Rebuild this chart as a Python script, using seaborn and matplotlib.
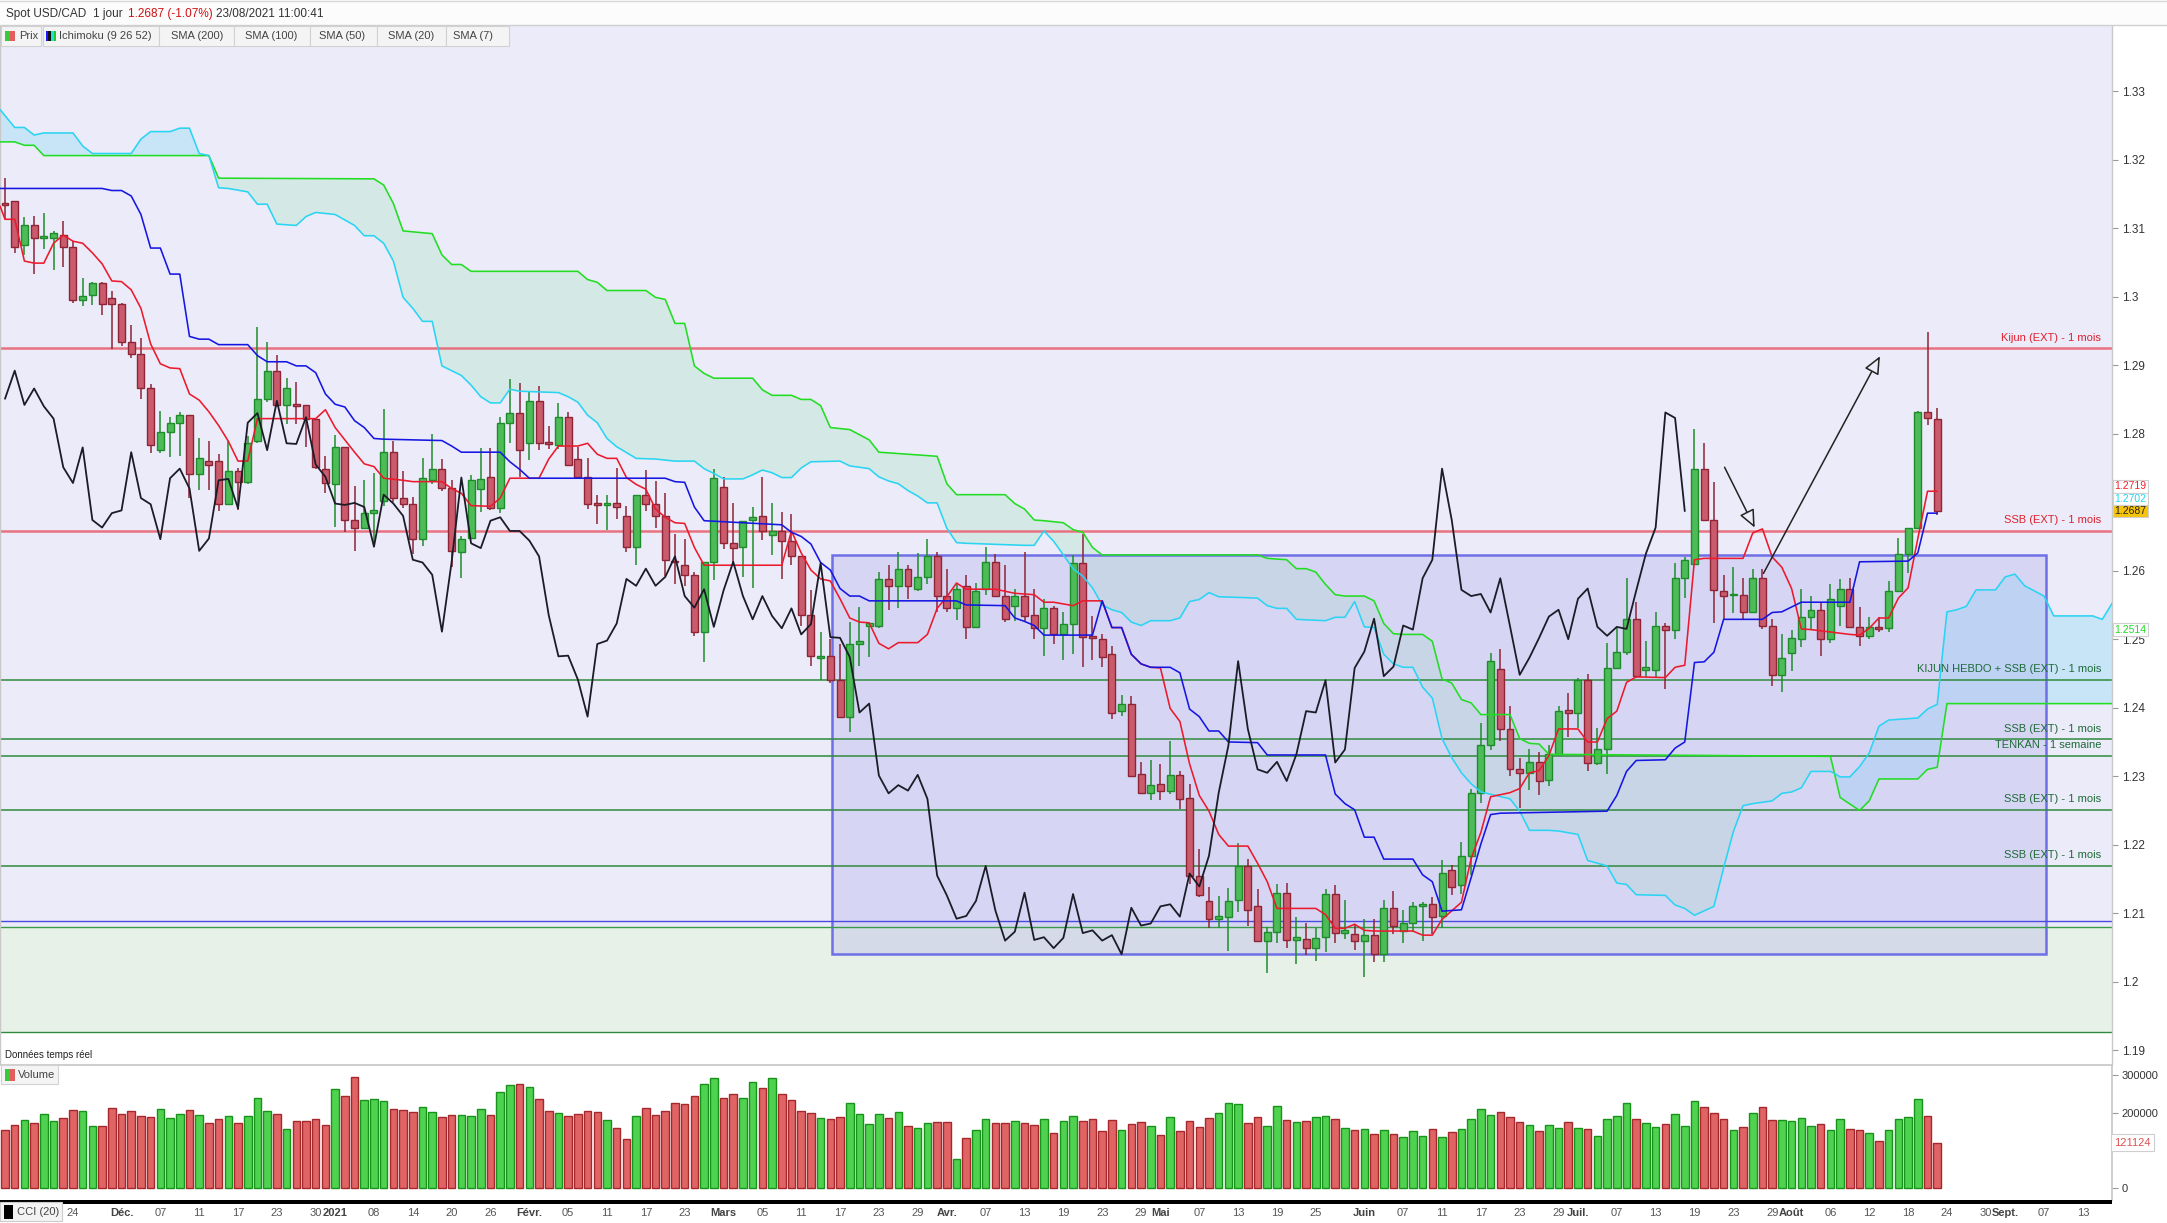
import numpy as np
import pandas as pd
import matplotlib
matplotlib.use("Agg")
import matplotlib.pyplot as plt
import seaborn as sns
from matplotlib.patches import Rectangle
from matplotlib.transforms import blended_transform_factory

# -------------------------------
# Daily candles USD/CAD, 13/11/2020 -> 23/08/2021
# -------------------------------
opens = [
    1.3137, 1.3139, 1.3075, 1.3104, 1.3086, 1.3086, 1.3090, 1.3073, 1.2995, 1.3002,
    1.3020, 1.2998, 1.2990, 1.2934, 1.2916, 1.2866, 1.2776, 1.2803, 1.2815, 1.2827,
    1.2741, 1.2760, 1.2760, 1.2698, 1.2746, 1.2730, 1.2790, 1.2851, 1.2891, 1.2842,
    1.2843, 1.2842, 1.2822, 1.2749, 1.2726, 1.2780, 1.2674, 1.2663, 1.2684, 1.2702,
    1.2773, 1.2706, 1.2697, 1.2646, 1.2733, 1.2748, 1.2720, 1.2627, 1.2648, 1.2719,
    1.2737, 1.2692, 1.2816, 1.2830, 1.2786, 1.2848, 1.2787, 1.2784, 1.2824, 1.2763,
    1.2737, 1.2698, 1.2696, 1.2699, 1.2680, 1.2635, 1.2711, 1.2698, 1.2680, 1.2614,
    1.2609, 1.2594, 1.2511, 1.2612, 1.2722, 1.2640, 1.2634, 1.2674, 1.2680, 1.2652,
    1.2658, 1.2644, 1.2621, 1.2535, 1.2472, 1.2476, 1.2441, 1.2387, 1.2493, 1.2519,
    1.2519, 1.2588, 1.2578, 1.2603, 1.2573, 1.2591, 1.2621, 1.2563, 1.2546, 1.2578,
    1.2518, 1.2573, 1.2613, 1.2563, 1.2549, 1.2563, 1.2535, 1.2517, 1.2545, 1.2507,
    1.2522, 1.2611, 1.2505, 1.2501, 1.2479, 1.2395, 1.2406, 1.2303, 1.2275, 1.2288,
    1.2279, 1.2302, 1.2268, 1.2155, 1.2118, 1.2092, 1.2095, 1.2120, 1.2169, 1.2111,
    1.2060, 1.2073, 1.2130, 1.2061, 1.2063, 1.2049, 1.2066, 1.2128, 1.2071, 1.2069,
    1.2060, 1.2068, 1.2040, 1.2108, 1.2074, 1.2085, 1.2110, 1.2113, 1.2096, 1.2163,
    1.2141, 1.2184, 1.2276, 1.2345, 1.2457, 1.2369, 1.2310, 1.2305, 1.2321, 1.2295,
    1.2332, 1.2397, 1.2393, 1.2440, 1.2320, 1.2339, 1.2458, 1.2482, 1.2530, 1.2455,
    1.2455, 1.2520, 1.2514, 1.2589, 1.2610, 1.2749, 1.2674, 1.2571, 1.2564, 1.2564,
    1.2539, 1.2589, 1.2519, 1.2448, 1.2480, 1.2500, 1.2533, 1.2543, 1.2500, 1.2549,
    1.2574, 1.2518, 1.2505, 1.2518, 1.2517, 1.2571, 1.2625, 1.2663, 1.2831, 1.2821,
]
highs = [
    1.3173, 1.3139, 1.3116, 1.3118, 1.3122, 1.3096, 1.3111, 1.3082, 1.3028, 1.3022,
    1.3022, 1.3009, 1.2991, 1.2959, 1.2940, 1.2873, 1.2833, 1.2825, 1.2832, 1.2827,
    1.2793, 1.2789, 1.2770, 1.2789, 1.2750, 1.2796, 1.2956, 1.2934, 1.2915, 1.2881,
    1.2875, 1.2842, 1.2822, 1.2768, 1.2798, 1.2780, 1.2723, 1.2733, 1.2743, 1.2836,
    1.2790, 1.2746, 1.2708, 1.2764, 1.2799, 1.2763, 1.2732, 1.2650, 1.2739, 1.2779,
    1.2779, 1.2824, 1.2880, 1.2874, 1.2862, 1.2869, 1.2811, 1.2845, 1.2832, 1.2781,
    1.2765, 1.2711, 1.2711, 1.2750, 1.2694, 1.2711, 1.2747, 1.2731, 1.2714, 1.2654,
    1.2647, 1.2598, 1.2613, 1.2749, 1.2737, 1.2699, 1.2673, 1.2693, 1.2737, 1.2699,
    1.2686, 1.2683, 1.2621, 1.2572, 1.2511, 1.2500, 1.2493, 1.2525, 1.2547, 1.2524,
    1.2598, 1.2608, 1.2628, 1.2608, 1.2626, 1.2647, 1.2628, 1.2602, 1.2581, 1.2593,
    1.2582, 1.2634, 1.2625, 1.2609, 1.2573, 1.2627, 1.2574, 1.2559, 1.2548, 1.2539,
    1.2623, 1.2654, 1.2534, 1.2508, 1.2490, 1.2419, 1.2417, 1.2321, 1.2323, 1.2318,
    1.2352, 1.2307, 1.2288, 1.2194, 1.2138, 1.2125, 1.2137, 1.2202, 1.2179, 1.2136,
    1.2080, 1.2142, 1.2144, 1.2094, 1.2085, 1.2078, 1.2135, 1.2141, 1.2119, 1.2084,
    1.2091, 1.2091, 1.2119, 1.2132, 1.2105, 1.2117, 1.2117, 1.2123, 1.2178, 1.2170,
    1.2204, 1.2282, 1.2377, 1.2480, 1.2485, 1.2403, 1.2327, 1.2339, 1.2336, 1.2346,
    1.2402, 1.2422, 1.2444, 1.2449, 1.2371, 1.2494, 1.2516, 1.2589, 1.2554, 1.2498,
    1.2539, 1.2524, 1.2611, 1.2620, 1.2807, 1.2786, 1.2729, 1.2593, 1.2606, 1.2589,
    1.2603, 1.2603, 1.2530, 1.2507, 1.2514, 1.2574, 1.2563, 1.2554, 1.2580, 1.2588,
    1.2590, 1.2547, 1.2532, 1.2532, 1.2585, 1.2648, 1.2663, 1.2833, 1.2949, 1.2838,
]
lows = [
    1.3114, 1.3064, 1.3061, 1.3033, 1.3070, 1.3039, 1.3044, 1.2991, 1.2986, 1.2988,
    1.2973, 1.2923, 1.2928, 1.2910, 1.2851, 1.2772, 1.2772, 1.2766, 1.2768, 1.2706,
    1.2718, 1.2718, 1.2687, 1.2698, 1.2689, 1.2727, 1.2786, 1.2846, 1.2839, 1.2814,
    1.2814, 1.2781, 1.2749, 1.2713, 1.2664, 1.2656, 1.2629, 1.2663, 1.2636, 1.2695,
    1.2701, 1.2692, 1.2624, 1.2636, 1.2726, 1.2716, 1.2606, 1.2590, 1.2648, 1.2686,
    1.2689, 1.2684, 1.2787, 1.2737, 1.2761, 1.2776, 1.2777, 1.2777, 1.2753, 1.2735,
    1.2690, 1.2668, 1.2659, 1.2676, 1.2628, 1.2609, 1.2687, 1.2663, 1.2592, 1.2581,
    1.2578, 1.2504, 1.2467, 1.2586, 1.2631, 1.2608, 1.2591, 1.2575, 1.2645, 1.2623,
    1.2588, 1.2608, 1.2520, 1.2461, 1.2440, 1.2436, 1.2387, 1.2364, 1.2461, 1.2474,
    1.2517, 1.2542, 1.2545, 1.2559, 1.2570, 1.2581, 1.2539, 1.2539, 1.2528, 1.2500,
    1.2517, 1.2564, 1.2563, 1.2525, 1.2527, 1.2525, 1.2500, 1.2476, 1.2493, 1.2470,
    1.2478, 1.2459, 1.2470, 1.2459, 1.2383, 1.2388, 1.2299, 1.2275, 1.2265, 1.2265,
    1.2274, 1.2252, 1.2142, 1.2123, 1.2078, 1.2078, 1.2045, 1.2102, 1.2081, 1.2060,
    1.2013, 1.2056, 1.2049, 1.2026, 1.2039, 1.2030, 1.2043, 1.2056, 1.2063, 1.2046,
    1.2007, 1.2029, 1.2029, 1.2070, 1.2056, 1.2073, 1.2060, 1.2070, 1.2078, 1.2127,
    1.2128, 1.2156, 1.2261, 1.2338, 1.2352, 1.2301, 1.2253, 1.2280, 1.2272, 1.2286,
    1.2332, 1.2357, 1.2371, 1.2307, 1.2317, 1.2303, 1.2457, 1.2477, 1.2443, 1.2445,
    1.2443, 1.2427, 1.2500, 1.2560, 1.2609, 1.2672, 1.2524, 1.2529, 1.2538, 1.2528,
    1.2538, 1.2515, 1.2432, 1.2423, 1.2453, 1.2489, 1.2515, 1.2475, 1.2494, 1.2520,
    1.2516, 1.2490, 1.2500, 1.2510, 1.2510, 1.2571, 1.2596, 1.2663, 1.2813, 1.2682,
]
closes = [
    1.3134, 1.3073, 1.3104, 1.3086, 1.3089, 1.3093, 1.3073, 1.2995, 1.3001, 1.3020,
    1.2990, 1.2990, 1.2934, 1.2916, 1.2866, 1.2783, 1.2803, 1.2815, 1.2827, 1.2741,
    1.2765, 1.2754, 1.2698, 1.2746, 1.2730, 1.2786, 1.2851, 1.2892, 1.2842, 1.2866,
    1.2840, 1.2822, 1.2751, 1.2728, 1.2780, 1.2674, 1.2663, 1.2684, 1.2688, 1.2773,
    1.2706, 1.2697, 1.2646, 1.2735, 1.2749, 1.2720, 1.2629, 1.2647, 1.2732, 1.2734,
    1.2691, 1.2816, 1.2830, 1.2776, 1.2848, 1.2786, 1.2785, 1.2824, 1.2755, 1.2737,
    1.2698, 1.2696, 1.2699, 1.2693, 1.2635, 1.2711, 1.2698, 1.2680, 1.2616, 1.2612,
    1.2594, 1.2511, 1.2613, 1.2736, 1.2640, 1.2633, 1.2673, 1.2678, 1.2658, 1.2658,
    1.2644, 1.2621, 1.2535, 1.2475, 1.2476, 1.2441, 1.2387, 1.2493, 1.2498, 1.2523,
    1.2588, 1.2578, 1.2603, 1.2578, 1.2591, 1.2621, 1.2563, 1.2546, 1.2573, 1.2518,
    1.2571, 1.2613, 1.2563, 1.2529, 1.2563, 1.2534, 1.2516, 1.2545, 1.2507, 1.2522,
    1.2611, 1.2503, 1.2502, 1.2474, 1.2393, 1.2406, 1.2301, 1.2275, 1.2287, 1.2279,
    1.2302, 1.2267, 1.2155, 1.2126, 1.2092, 1.2096, 1.2118, 1.2169, 1.2104, 1.2060,
    1.2073, 1.2130, 1.2061, 1.2065, 1.2049, 1.2064, 1.2128, 1.2071, 1.2075, 1.2060,
    1.2068, 1.2040, 1.2108, 1.2082, 1.2085, 1.2110, 1.2113, 1.2095, 1.2158, 1.2139,
    1.2184, 1.2276, 1.2345, 1.2468, 1.2369, 1.2310, 1.2305, 1.2321, 1.2293, 1.2332,
    1.2395, 1.2393, 1.2440, 1.2320, 1.2339, 1.2458, 1.2482, 1.2530, 1.2446, 1.2460,
    1.2520, 1.2514, 1.2589, 1.2616, 1.2749, 1.2674, 1.2572, 1.2563, 1.2566, 1.2539,
    1.2589, 1.2519, 1.2448, 1.2473, 1.2502, 1.2533, 1.2543, 1.2500, 1.2559, 1.2574,
    1.2518, 1.2505, 1.2518, 1.2515, 1.2571, 1.2625, 1.2663, 1.2831, 1.2823, 1.2687,
]
# volumes in thousands
volumes_k = [
    154, 167, 181, 174, 197, 178, 186, 207, 204, 165,
    165, 212, 197, 204, 191, 189, 210, 186, 197, 207,
    194, 173, 183, 191, 173, 191, 239, 204, 197, 157,
    178, 178, 183, 167, 263, 244, 294, 234, 236, 231,
    210, 207, 202, 215, 202, 189, 194, 194, 191, 210,
    194, 255, 273, 276, 268, 236, 204, 199, 191, 197,
    204, 202, 181, 160, 130, 191, 212, 194, 204, 226,
    223, 244, 278, 292, 239, 249, 239, 281, 265, 292,
    249, 234, 204, 199, 186, 183, 189, 226, 197, 170,
    197, 186, 202, 165, 160, 173, 175, 175, 78, 133,
    154, 183, 173, 173, 178, 173, 167, 183, 146, 178,
    191, 178, 183, 152, 181, 154, 170, 175, 165, 141,
    189, 152, 178, 162, 186, 199, 226, 223, 173, 189,
    165, 218, 181, 175, 178, 189, 191, 183, 160, 154,
    157, 144, 154, 144, 136, 152, 138, 157, 136, 149,
    157, 183, 210, 194, 202, 189, 175, 167, 152, 167,
    160, 175, 160, 157, 138, 183, 191, 226, 183, 173,
    162, 170, 197, 165, 231, 215, 199, 183, 154, 162,
    199, 215, 181, 181, 178, 186, 165, 170, 154, 183,
    157, 154, 146, 125, 154, 183, 189, 236, 191, 121.124,
]

# Ichimoku lines, (day index, price) vertices
tenkan = [(-0.5, 1.3132), (0, 1.3113), (1, 1.3113), (2, 1.3052), (3, 1.3049), (4, 1.3049),
          (5, 1.3078), (6, 1.3090), (7, 1.3081), (8, 1.3078), (9, 1.3064), (10, 1.3048),
          (11, 1.3023), (12, 1.3022), (13, 1.3010), (14, 1.2983), (15, 1.2931), (16, 1.2902),
          (17, 1.2896), (18, 1.2895), (19, 1.2858), (20, 1.2849), (21, 1.2832), (22, 1.2812),
          (23, 1.2789), (24, 1.2760), (25, 1.2760), (26, 1.2822), (32, 1.2822), (33, 1.2835),
          (34, 1.2809), (35, 1.2791), (36, 1.2773), (37, 1.2756), (38, 1.2752), (39, 1.2735),
          (41, 1.2732), (42, 1.2730), (45, 1.2730), (46, 1.2720), (47, 1.2713), (48, 1.2695),
          (50, 1.2694), (51, 1.2706), (52, 1.2735), (55, 1.2735), (56, 1.2763), (57, 1.2782),
          (59, 1.2782), (60, 1.2786), (61, 1.2770), (62, 1.2764), (63, 1.2764), (64, 1.2736),
          (65, 1.2726), (66, 1.2719), (67, 1.2690), (68, 1.2678), (69, 1.2670), (70, 1.2669),
          (71, 1.2634), (72, 1.2608), (80, 1.2608), (81, 1.2658), (82, 1.2626), (83, 1.2601),
          (84, 1.2588), (85, 1.2585), (86, 1.2559), (87, 1.2531), (88, 1.2525), (89, 1.2524),
          (90, 1.2494), (91, 1.2486), (92, 1.2495), (94, 1.2495), (95, 1.2507), (96, 1.2545),
          (97, 1.2562), (98, 1.2582), (99, 1.2573), (102, 1.2573), (103, 1.2570), (104, 1.2567),
          (106, 1.2565), (107, 1.2554), (108, 1.2554), (110, 1.2549), (111, 1.2556), (113, 1.2556),
          (114, 1.2517), (115, 1.2517), (116, 1.2478), (117, 1.2464), (118, 1.2459), (119, 1.2458),
          (120, 1.2399), (121, 1.2380), (122, 1.2318), (123, 1.2272), (124, 1.2249), (125, 1.2215),
          (126, 1.2198), (128, 1.2198), (129, 1.2173), (130, 1.2146), (131, 1.2107), (135, 1.2107),
          (136, 1.2098), (137, 1.2078), (138, 1.2078), (139, 1.2084), (140, 1.2075), (141, 1.2074),
          (145, 1.2074), (146, 1.2068), (147, 1.2068), (148, 1.2091), (150, 1.2116), (151, 1.2180),
          (152, 1.2218), (153, 1.2270), (155, 1.2276), (156, 1.2282), (157, 1.2305), (158, 1.2308),
          (159, 1.2330), (160, 1.2369), (162, 1.2369), (163, 1.2350), (164, 1.2350), (165, 1.2384),
          (166, 1.2395), (167, 1.2437), (168, 1.2445), (171, 1.2444), (172, 1.2459), (173, 1.2462),
          (174, 1.2616), (175, 1.2618), (179, 1.2618), (180, 1.2655), (181, 1.2661), (182, 1.2620),
          (183, 1.2605), (184, 1.2574), (185, 1.2515), (186, 1.2514), (190, 1.2507), (191, 1.2506),
          (192, 1.2516), (193, 1.2531), (194, 1.2531), (195, 1.2560), (196, 1.2575), (197, 1.2647),
          (198, 1.2716), (199, 1.2716)]
kijun = [(-0.5, 1.3158), (10, 1.3158), (11, 1.3155), (12, 1.3155), (13, 1.3147), (14, 1.3120),
         (15, 1.3071), (16, 1.3071), (17, 1.3033), (18, 1.3033), (19, 1.2942), (20, 1.2938),
         (21, 1.2938), (22, 1.2930), (25, 1.2930), (26, 1.2914), (27, 1.2905), (29, 1.2905),
         (30, 1.2899), (31, 1.2899), (32, 1.2889), (33, 1.2858), (34, 1.2843), (35, 1.2839),
         (36, 1.2819), (37, 1.2809), (38, 1.2793), (39, 1.2792), (45, 1.2790), (46, 1.2782),
         (47, 1.2773), (51, 1.2773), (52, 1.2759), (53, 1.2748), (54, 1.2735), (68, 1.2735),
         (69, 1.2730), (70, 1.2729), (71, 1.2693), (72, 1.2673), (80, 1.2667), (81, 1.2656),
         (82, 1.2650), (83, 1.2639), (84, 1.2612), (85, 1.2601), (86, 1.2574), (87, 1.2563),
         (88, 1.2563), (89, 1.2556), (98, 1.2556), (99, 1.2550), (103, 1.2549), (104, 1.2531),
         (105, 1.2526), (106, 1.2520), (107, 1.2506), (112, 1.2506), (113, 1.2556), (114, 1.2517),
         (115, 1.2517), (116, 1.2478), (117, 1.2464), (118, 1.2459), (120, 1.2459), (121, 1.2451),
         (122, 1.2398), (123, 1.2387), (124, 1.2366), (125, 1.2366), (126, 1.2350), (129, 1.2349),
         (130, 1.2331), (136, 1.2331), (137, 1.2274), (138, 1.2260), (139, 1.2251), (140, 1.2211),
         (141, 1.2211), (142, 1.2179), (145, 1.2179), (146, 1.2156), (147, 1.2146), (148, 1.2103),
         (150, 1.2105), (151, 1.2152), (152, 1.2201), (153, 1.2244), (154, 1.2246), (165, 1.2249),
         (166, 1.2272), (167, 1.2307), (168, 1.2323), (171, 1.2324), (172, 1.2341), (173, 1.2350),
         (174, 1.2466), (175, 1.2467), (176, 1.2481), (177, 1.2529), (181, 1.2529), (182, 1.2539),
         (183, 1.2540), (185, 1.2554), (190, 1.2554), (191, 1.2613), (196, 1.2614), (197, 1.2626),
         (198, 1.2684), (199, 1.2684)]
span_green = [(-0.5, 1.3226), (1, 1.3226), (2, 1.3221), (3, 1.3221), (4, 1.3206), (21, 1.3206),
              (22, 1.3173), (38, 1.3172), (39, 1.3163), (40, 1.3136), (41, 1.3096), (44, 1.3092),
              (45, 1.3061), (46, 1.3047), (47, 1.3047), (48, 1.3037), (59, 1.3037), (60, 1.3025),
              (61, 1.3021), (62, 1.3009), (66, 1.3009), (67, 1.2999), (68, 1.2996), (69, 1.2961),
              (70, 1.2961), (71, 1.2899), (72, 1.2888), (73, 1.2881), (77, 1.2881), (78, 1.2864),
              (79, 1.2856), (81, 1.2856), (82, 1.2850), (83, 1.2850), (84, 1.2841), (85, 1.2809),
              (87, 1.2806), (89, 1.2791), (90, 1.2773), (96, 1.2767), (97, 1.2727), (98, 1.2711),
              (103, 1.2711), (104, 1.2698), (105, 1.2690), (106, 1.2674), (107, 1.2673), (109, 1.2670),
              (110, 1.2660), (111, 1.2656), (112, 1.2634), (113, 1.2623), (129, 1.2623), (130, 1.2618),
              (132, 1.2616), (133, 1.2603), (134, 1.2603), (135, 1.2598), (136, 1.2580), (137, 1.2565),
              (138, 1.2563), (140, 1.2563), (141, 1.2556), (142, 1.2523), (143, 1.2508), (144, 1.2507),
              (146, 1.2507), (147, 1.2497), (148, 1.2442), (149, 1.2436), (150, 1.2412), (151, 1.2407),
              (152, 1.2390), (155, 1.2390), (156, 1.2355), (157, 1.2348), (158, 1.2347), (159, 1.2332),
              (188, 1.2329), (188.42, 1.2304), (189, 1.2269), (191, 1.2250), (192, 1.2264), (193, 1.2296),
              (197, 1.2296), (198, 1.2310), (199, 1.2313), (200, 1.2406), (218, 1.2406)]
span_cyan = [(-0.5, 1.3273), (1, 1.3247), (2, 1.3247), (3, 1.3236), (4, 1.3239), (7, 1.3239),
             (8, 1.3220), (9, 1.3209), (13, 1.3209), (14, 1.3230), (15, 1.3241), (17, 1.3241),
             (18, 1.3246), (19, 1.3246), (20, 1.3209), (21, 1.3206), (22, 1.3159), (23, 1.3158),
             (25, 1.3153), (26, 1.3135), (27, 1.3135), (28, 1.3106), (30, 1.3104), (31, 1.3117),
             (32, 1.3123), (34, 1.3120), (36, 1.3104), (37, 1.3089), (38, 1.3089), (39, 1.3078),
             (40, 1.3052), (41, 1.2999), (42, 1.2983), (43, 1.2964), (44, 1.2964), (45, 1.2899),
             (46, 1.2892), (47, 1.2885), (48, 1.2871), (49, 1.2854), (50, 1.2845), (51, 1.2845),
             (52, 1.2865), (53, 1.2862), (57, 1.2860), (58, 1.2854), (59, 1.2846), (60, 1.2827),
             (61, 1.2816), (62, 1.2793), (63, 1.2781), (65, 1.2764), (67, 1.2763), (69, 1.2760),
             (71, 1.2760), (72, 1.2749), (73, 1.2742), (74, 1.2734), (76, 1.2734), (77, 1.2740),
             (78, 1.2747), (79, 1.2743), (80, 1.2736), (81, 1.2736), (82, 1.2750), (83, 1.2759),
             (86, 1.2760), (87, 1.2753), (89, 1.2749), (90, 1.2737), (91, 1.2731), (92, 1.2727),
             (93, 1.2717), (94, 1.2709), (95, 1.2699), (96, 1.2699), (97, 1.2662), (98, 1.2641),
             (99, 1.2640), (105, 1.2637), (106, 1.2637), (107, 1.2658), (108, 1.2643), (110, 1.2603),
             (111, 1.2592), (112, 1.2575), (113, 1.2550), (114, 1.2543), (115, 1.2539), (116, 1.2525),
             (117, 1.2520), (118, 1.2527), (120, 1.2527), (121, 1.2531), (122, 1.2555), (123, 1.2558),
             (124, 1.2568), (125, 1.2562), (129, 1.2560), (130, 1.2549), (131, 1.2545), (132, 1.2545),
             (133, 1.2529), (136, 1.2527), (137, 1.2532), (138, 1.2532), (139, 1.2555), (140, 1.2518),
             (141, 1.2517), (142, 1.2478), (143, 1.2464), (144, 1.2459), (145, 1.2459), (146, 1.2430),
             (147, 1.2414), (148, 1.2355), (149, 1.2327), (150, 1.2305), (151, 1.2289), (152, 1.2277),
             (155, 1.2267), (156, 1.2249), (157, 1.2221), (159, 1.2221), (160, 1.2220), (162, 1.2215),
             (163, 1.2177), (165, 1.2169), (166, 1.2144), (167, 1.2142), (168, 1.2127), (171, 1.2126),
             (172, 1.2112), (173, 1.2107), (174, 1.2097), (176, 1.2110), (177, 1.2166), (178, 1.2219),
             (179, 1.2257), (180, 1.2260), (182, 1.2264), (183, 1.2275), (184, 1.2277), (185, 1.2283),
             (186, 1.2307), (188, 1.2307), (188.42, 1.2304), (189, 1.2299), (190, 1.2299), (191, 1.2314),
             (192, 1.2334), (193, 1.2373), (194, 1.2382), (197, 1.2385), (198, 1.2398), (199, 1.2405),
             (200, 1.2540), (201, 1.2543), (202, 1.2548), (203, 1.2572), (205, 1.2572), (206, 1.2591),
             (207, 1.2595), (208, 1.2578), (210, 1.2563), (211, 1.2534), (215, 1.2534), (216, 1.2529),
             (217, 1.2552), (218, 1.2575)]
cloud_cross = [-0.5, 21, 188.42, 218]   # where the two spans swap sides

# user drawn levels
red_levels = [(1.2925, "Kijun (EXT) - 1 mois"), (1.2658, "SSB (EXT) - 1 mois")]
green_levels = [(1.2441, "KIJUN HEBDO + SSB (EXT) - 1 mois"), (1.2354, "SSB (EXT) - 1 mois"),
                (1.2330, "TENKAN - 1 semaine"), (1.2251, "SSB (EXT) - 1 mois"),
                (1.2169, "SSB (EXT) - 1 mois")]
blue_level = 1.2089
green_zone = (1.1926, 1.2080)
box_days = (85.2, 210.2)
box_prices = (1.2040, 1.2623)
arrows = [((177.1, 1.2751), (180.2, 1.2663)), ((181.1, 1.2596), (193.1, 1.2913))]

# right axis value tags (stacked just above the last price)
tags = [(1.2723, "1.2719", "#f0202a", "white"), (1.2705, "1.2702", "#20d8f0", "white"),
        (1.2687, "1.2687", "#222222", "#f6c40c"), (1.2514, "1.2514", "#20dd20", "white")]
hidden_ticks = {1.27}   # covered by the value tags on the original

date_labels = [
    ("2020-11-24", "24"), ("2020-12-01", "Déc."), ("2020-12-07", "07"), ("2020-12-11", "11"),
    ("2020-12-17", "17"), ("2020-12-23", "23"), ("2020-12-30", "30"), ("2021-01-04", "2021"),
    ("2021-01-08", "08"), ("2021-01-14", "14"), ("2021-01-20", "20"), ("2021-01-26", "26"),
    ("2021-02-01", "Févr."), ("2021-02-05", "05"), ("2021-02-11", "11"), ("2021-02-17", "17"),
    ("2021-02-23", "23"), ("2021-03-01", "Mars"), ("2021-03-05", "05"), ("2021-03-11", "11"),
    ("2021-03-17", "17"), ("2021-03-23", "23"), ("2021-03-29", "29"), ("2021-04-01", "Avr."),
    ("2021-04-07", "07"), ("2021-04-13", "13"), ("2021-04-19", "19"), ("2021-04-23", "23"),
    ("2021-04-29", "29"), ("2021-05-03", "Mai"), ("2021-05-07", "07"), ("2021-05-13", "13"),
    ("2021-05-19", "19"), ("2021-05-25", "25"), ("2021-06-01", "Juin"), ("2021-06-07", "07"),
    ("2021-06-11", "11"), ("2021-06-17", "17"), ("2021-06-23", "23"), ("2021-06-29", "29"),
    ("2021-07-01", "Juil."), ("2021-07-07", "07"), ("2021-07-13", "13"), ("2021-07-19", "19"),
    ("2021-07-23", "23"), ("2021-07-29", "29"), ("2021-08-02", "Août"), ("2021-08-06", "06"),
    ("2021-08-12", "12"), ("2021-08-18", "18"), ("2021-08-24", "24"), ("2021-08-30", "30"),
    ("2021-09-01", "Sept."), ("2021-09-07", "07"), ("2021-09-13", "13"),
]
bold_labels = {"Déc.", "2021", "Févr.", "Mars", "Avr.", "Mai", "Juin", "Juil.", "Août", "Sept."}

# -------------------------------
# Style
# -------------------------------
sns.set_theme(style="white")
plt.rcParams['font.family'] = ['Liberation Sans', 'DejaVu Sans']

G_FC, G_EC = "#4dbb57", "#1f8c2c"
R_FC, R_EC = "#c95b6c", "#8e2436"
BG = "#ebebf9"

W, H = 2167, 1223
fig = plt.figure(figsize=(W / 100, H / 100), dpi=100)
fig.patch.set_facecolor("white")


def fx(px):
    return px / W


def fy(py):
    return 1 - py / H


XLIM = (-0.515, 217.0)
ax = fig.add_axes([0, fy(1064), fx(2112), (1064 - 25) / H])
axv = fig.add_axes([0, fy(1200), fx(2112), (1200 - 1065) / H])
axd = fig.add_axes([0, 0, fx(2112), 23 / H])

# calendar for the x axis (trading days, no 25/12 and 01/01)
days = pd.bdate_range("2020-11-13", "2021-09-30")
days = days[~days.isin(pd.to_datetime(["2020-12-25", "2021-01-01"]))]
day_pos = {d: i for i, d in enumerate(days)}

o, hi, lo, c = map(np.array, (opens, highs, lows, closes))
vol = np.array(volumes_k) * 1000
idx = np.arange(len(c))
up = c >= o

# -------------------------------
# Price panel
# -------------------------------
ax.set_facecolor("white")
ax.set_xlim(*XLIM)
ax.set_ylim(1.18799, 1.33966)
ax.axhspan(green_zone[0], 1.36, color=BG, lw=0, zorder=0.1)
ax.axhspan(green_zone[0], green_zone[1], color="#e7f1e7", lw=0, zorder=0.2)


def cloud(a, b, color):
    g = [p for p in span_green if a <= p[0] <= b]
    s = [p for p in span_cyan if a <= p[0] <= b][::-1]
    pts = g + s
    ax.fill([p[0] for p in pts], [p[1] for p in pts], color=color, lw=0, zorder=1)


cloud_colors = ["#c7e5f7", "#d4e9e6", "#c7e5f7"]
for k in range(3):
    cloud(cloud_cross[k], cloud_cross[k + 1], cloud_colors[k])

ax.add_patch(Rectangle((box_days[0], box_prices[0]), box_days[1] - box_days[0],
                       box_prices[1] - box_prices[0], fc=(172 / 255, 172 / 255, 236 / 255, 0.32),
                       ec="#6f6fe6", lw=1.8, zorder=1.6))

for lvl, txt in red_levels:
    ax.axhline(lvl, color="#e8727f", lw=1.8, zorder=2)
    ax.annotate(txt, xy=(215.9, lvl), xytext=(0, 4), textcoords="offset points",
                ha="right", va="bottom", fontsize=8, color="#e0202e", zorder=6)
for lvl, txt in green_levels:
    ax.axhline(lvl, color="#2f8a3e", lw=1.1, zorder=2)
    ax.annotate(txt, xy=(215.9, lvl), xytext=(0, 4), textcoords="offset points",
                ha="right", va="bottom", fontsize=8, color="#1f6a38", zorder=6)
ax.axhline(blue_level, color="#4a4ae0", lw=1.0, zorder=2)
ax.axhline(green_zone[1], color="#3a9a4a", lw=1.0, zorder=2)
ax.axhline(green_zone[0], color="#2f8a3e", lw=1.0, zorder=2)

# candles
for mask, fc, ec in [(up, G_FC, G_EC), (~up, R_FC, R_EC)]:
    ax.vlines(idx[mask], lo[mask], hi[mask], color=ec, lw=1.1, zorder=4)
    body = np.maximum(np.abs(c[mask] - o[mask]), 0.00025)
    ax.bar(idx[mask], body, 0.72, bottom=np.minimum(o[mask], c[mask]),
           color=fc, edgecolor=ec, lw=1.0, zorder=4.1)

# ichimoku lines
for knots, col in [(span_green, "#22dd22"), (span_cyan, "#2ad4f2"),
                   (tenkan, "#ec1a2c"), (kijun, "#1616e2")]:
    sns.lineplot(x=[p[0] for p in knots], y=[p[1] for p in knots], ax=ax, color=col,
                 lw=1.15, sort=False, estimator=None, legend=False, zorder=5)
# chikou = close plotted 26 days back
sns.lineplot(x=idx[26:] - 26, y=c[26:], ax=ax, color="#1c1c28", lw=1.3,
             sort=False, estimator=None, legend=False, zorder=5.5)

for tail, tip in arrows:
    ax.annotate("", xy=tip, xytext=tail,
                arrowprops=dict(arrowstyle="-|>,head_length=0.9,head_width=0.4",
                                ec="#222222", fc=BG, lw=1.1, shrinkA=0, shrinkB=0,
                                mutation_scale=12), zorder=6)

ax.set_xlabel("")
ax.set_ylabel("")
ax.set_xticks([])
ax.yaxis.tick_right()
yt = np.round(np.arange(1.19, 1.3301, 0.01), 2)
ax.set_yticks(yt)
ax.set_yticklabels(["" if v in hidden_ticks else f"{v:g}" for v in yt])
ax.tick_params(axis="y", right=True, length=4, width=0.8, color="#999999", pad=3,
               labelsize=8.5, labelcolor="#333333")
for s in ax.spines.values():
    s.set_visible(False)
for s in ("right", "left"):
    ax.spines[s].set_visible(True)
    ax.spines[s].set_color("#c8c8c8")
    ax.spines[s].set_linewidth(1)

tr = blended_transform_factory(ax.transAxes, ax.transData)
for z, (y, txt, tc, fc) in enumerate(tags):
    ax.text(1.0012, y, txt, transform=tr, ha="left", va="center", fontsize=7.5, color=tc,
            bbox=dict(boxstyle="square,pad=0.12", fc=fc, ec="#cfcfcf", lw=0.8),
            clip_on=False, zorder=7 + z)

# -------------------------------
# Volume panel
# -------------------------------
axv.set_facecolor("white")
axv.set_xlim(*XLIM)
axv.set_ylim(-30450, 327000)
axv.bar(idx[up], vol[up], 0.78, color="#4fd24f", edgecolor="#17931b", lw=1.0)
axv.bar(idx[~up], vol[~up], 0.78, color="#e06464", edgecolor="#a4282c", lw=1.0)
axv.set_xticks([])
axv.yaxis.tick_right()
axv.set_yticks([0, 200000, 300000])
axv.set_yticklabels(["0", "200000", "300000"])
axv.tick_params(axis="y", right=True, length=4, width=0.8, color="#999999", pad=3,
                labelsize=8, labelcolor="#333333")
for s in axv.spines.values():
    s.set_visible(False)
for s in ("right", "top"):
    axv.spines[s].set_visible(True)
    axv.spines[s].set_color("#c8c8c8")
trv = blended_transform_factory(axv.transAxes, axv.transData)
axv.text(1.0012, vol[-1], f"{int(round(vol[-1]))}", transform=trv, ha="left", va="center",
         fontsize=8, color="#e05050", bbox=dict(boxstyle="square,pad=0.3", fc="white",
                                                 ec="#cfcfcf", lw=0.8), clip_on=False, zorder=7)

# -------------------------------
# Date strip
# -------------------------------
axd.set_xlim(*XLIM)
axd.set_ylim(23, 0)
axd.axis("off")
axd.axhspan(0, 4, color="black", lw=0)
for d, t in date_labels:
    bold = t in bold_labels
    axd.text(day_pos[pd.Timestamp(d)], 13.5, t, ha="center", va="center", fontsize=8,
             color="#444444" if bold else "#555555", fontweight="bold" if bold else "normal")

# -------------------------------
# Header, legend boxes
# -------------------------------
fig.add_artist(Rectangle((0, fy(25)), 1, 25 / H, transform=fig.transFigure,
                         fc="#fcfcfc", ec="none", zorder=1))
fig.add_artist(plt.Line2D([0, 1], [fy(25), fy(25)], transform=fig.transFigure,
                          color="#cfcfcf", lw=1, zorder=2))
fig.add_artist(plt.Line2D([0, 1], [fy(0.5), fy(0.5)], transform=fig.transFigure,
                          color="#d8d8d8", lw=1, zorder=2))
hy = fy(14)
fig.text(fx(6), hy, "Spot USD/CAD", fontsize=8.5, color="#333333", va="center")
fig.text(fx(93), hy, "1 jour", fontsize=8.5, color="#333333", va="center")
fig.text(fx(128), hy, "1.2687 (-1.07%)", fontsize=8.5, color="#d01010", va="center")
fig.text(fx(216), hy, "23/08/2021 11:00:41", fontsize=8.5, color="#333333", va="center")

legend_boxes = [(1, 41, "Prix", 19), (43, 159, "Ichimoku (9 26 52)", 59),
                (159, 234, "SMA (200)", 171), (234, 310, "SMA (100)", 245),
                (310, 377, "SMA (50)", 319), (377, 446, "SMA (20)", 388),
                (446, 509, "SMA (7)", 453)]
for x0, x1, txt, tx in legend_boxes:
    fig.add_artist(Rectangle((fx(x0), fy(46)), fx(x1 - x0), 20 / H, transform=fig.transFigure,
                             fc="#f4f4f4", ec="#d2d2d2", lw=0.8, zorder=1))
    fig.text(fx(tx), fy(36), txt, fontsize=8, color="#444444", va="center", zorder=3)


def small_rect(x0, y0, w, h, col):
    fig.add_artist(Rectangle((fx(x0), fy(y0 + h)), fx(w), h / H, transform=fig.transFigure,
                             fc=col, ec="none", zorder=2))


small_rect(5, 31, 5, 10, "#3cc83c")
small_rect(10, 31, 5, 10, "#e06060")
for k, col in enumerate(["#1a1aff", "#111111", "#22dddd", "#22cc22"]):
    small_rect(46 + 2.5 * k, 31, 2.5, 10, col)

# volume legend
fig.add_artist(Rectangle((fx(1), fy(1084)), fx(57), 19 / H, transform=fig.transFigure,
                         fc="#f4f4f4", ec="#d2d2d2", lw=0.8, zorder=1))
small_rect(5, 1069, 5, 12, "#3cc83c")
small_rect(10, 1069, 5, 12, "#e06060")
fig.text(fx(18), fy(1075), "Volume", fontsize=8, color="#444444", va="center", zorder=3)

fig.text(fx(5), fy(1055), "Données temps réel", fontsize=7, color="#222222", va="center")

# CCI collapsed legend at bottom left
fig.add_artist(Rectangle((fx(0), fy(1221)), fx(62), 19 / H, transform=fig.transFigure,
                         fc="#f4f4f4", ec="#cccccc", lw=0.8, zorder=2))
small_rect(4, 1205, 9, 14, "#000000")
fig.text(fx(17), fy(1212), "CCI (20)", fontsize=8, color="#444444", va="center", zorder=3)

fig.savefig("out.png", dpi=100)
